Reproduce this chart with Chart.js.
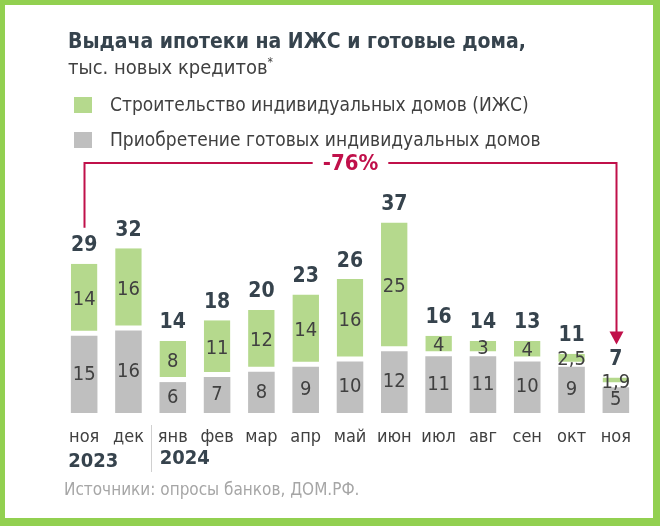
<!DOCTYPE html>
<html>
<head>
<meta charset="utf-8">
<script src="https://cdn.jsdelivr.net/npm/chart.js"></script>
<style>
  body { margin: 0; background: #92D050; width: 660px; height: 526px; overflow: hidden; font-family: "DejaVu Sans Condensed", "DejaVu Sans", sans-serif; }
  #card { position: absolute; left: 5px; top: 5px; width: 648px; height: 513px; background: #fff; }
  #chart { position: absolute; left: 0; top: 0; }
  .title { position: absolute; left: 68px; top: 29px; font-size: 21px; font-weight: bold; color: #36434D; white-space: nowrap; }
  .sub { position: absolute; left: 68px; top: 55px; font-size: 20px; color: #404040; white-space: nowrap; }
  .sub sup { font-size: 12px; }
  .leg { position: absolute; left: 74px; font-size: 19px; color: #404040; white-space: nowrap; }
  .leg span { display: inline-block; width: 18px; height: 16px; margin-right: 18px; vertical-align: -2px; }
  .src { position: absolute; left: 64px; top: 479px; font-size: 17px; color: #A6A6A6; white-space: nowrap; }
</style>
</head>
<body>
<div id="card"></div>
<canvas id="chart" width="660" height="526"></canvas>
<div class="title">Выдача ипотеки на ИЖС и готовые дома,</div>
<div class="sub">тыс. новых кредитов<sup>*</sup></div>
<div class="leg" style="top:93px"><span style="background:#B5D98D"></span>Строительство индивидуальных домов (ИЖС)</div>
<div class="leg" style="top:128px"><span style="background:#BFBFBF"></span>Приобретение готовых индивидуальных домов</div>
<div class="src">Источники: опросы банков, ДОМ.РФ.</div>
<script>
// данные
const months = ['ноя', 'дек', 'янв', 'фев', 'мар', 'апр', 'май', 'июн', 'июл', 'авг', 'сен', 'окт', 'ноя'];
const izhs = [14, 16, 8, 11, 12, 14, 16, 25, 4, 3, 4, 2.5, 1.9];
const ready = [15, 16, 6, 7, 8, 9, 10, 12, 11, 11, 10, 9, 5];
const totals = [29, 32, 14, 18, 20, 23, 26, 37, 16, 14, 13, 11, 7];
const years = ['2023', '2024'];
const changeLabel = '-76%';

const GREEN = '#B5D98D';
const GRAY = '#BFBFBF';
const RED = '#C0104A';
const FONT = '"DejaVu Sans Condensed", "DejaVu Sans", sans-serif';
const fmt = v => String(v).replace('.', ',');

const labelsPlugin = {
    id: 'labels',
    afterDatasetsDraw(chart) {
        const ctx = chart.ctx;
        const x = chart.scales.x;
        const y = chart.scales.y;
        ctx.save();
        ctx.textAlign = 'center';
        ctx.textBaseline = 'middle';

        // значения внутри сегментов
        ctx.font = '20px ' + FONT;
        ctx.fillStyle = '#404040';
        chart.data.datasets.forEach((ds, i) => {
            chart.getDatasetMeta(i).data.forEach((bar, j) => {
                const mid = (bar.y + bar.base) / 2;
                ctx.fillText(fmt(ds.data[j]), bar.x, mid);
            });
        });

        // итоги над столбцами
        ctx.font = 'bold 21px ' + FONT;
        ctx.fillStyle = '#36434D';
        totals.forEach((t, j) => {
            const top = y.getPixelForValue(izhs[j] + ready[j]);
            ctx.fillText(String(t), x.getPixelForValue(j), top - 18);
        });

        // подписи месяцев
        ctx.font = '18px ' + FONT;
        ctx.fillStyle = '#404040';
        months.forEach((m, j) => ctx.fillText(m, x.getPixelForValue(j), 437));

        // годы
        ctx.font = 'bold 20px ' + FONT;
        ctx.fillStyle = '#36434D';
        ctx.textAlign = 'left';
        ctx.fillText(years[0], x.getPixelForValue(0) - 16, 462);
        ctx.fillText(years[1], x.getPixelForValue(2) - 13, 459);

        // разделитель лет
        const sep = (x.getPixelForValue(1) + x.getPixelForValue(2)) / 2;
        ctx.strokeStyle = '#D0D0D0';
        ctx.lineWidth = 1;
        ctx.beginPath();
        ctx.moveTo(Math.round(sep) + 0.5, 425);
        ctx.lineTo(Math.round(sep) + 0.5, 472);
        ctx.stroke();

        // стрелка -76%
        const x0 = Math.round(x.getPixelForValue(0)) + 0.5;
        const x1 = Math.round(x.getPixelForValue(months.length - 1)) + 0.5;
        const lineY = 163;
        const leftEnd = y.getPixelForValue(totals[0]) - 36;
        const tip = y.getPixelForValue(izhs[12] + ready[12]) - 33;
        const midX = (x0 + x1) / 2;
        ctx.font = 'bold 22px ' + FONT;
        const tw = ctx.measureText(changeLabel).width;
        ctx.strokeStyle = RED;
        ctx.lineWidth = 2;
        ctx.beginPath();
        ctx.moveTo(x0, leftEnd);
        ctx.lineTo(x0, lineY);
        ctx.lineTo(midX - tw / 2 - 10, lineY);
        ctx.moveTo(midX + tw / 2 + 10, lineY);
        ctx.lineTo(x1, lineY);
        ctx.lineTo(x1, tip - 10);
        ctx.stroke();
        ctx.fillStyle = RED;
        ctx.beginPath();
        ctx.moveTo(x1 - 7, tip - 13);
        ctx.lineTo(x1 + 7, tip - 13);
        ctx.lineTo(x1, tip);
        ctx.closePath();
        ctx.fill();
        ctx.textAlign = 'center';
        ctx.fillText(changeLabel, midX, lineY + 1);
        ctx.restore();
    }
};

new Chart(document.getElementById('chart'), {
    type: 'bar',
    data: {
        labels: months,
        datasets: [
            { label: 'Приобретение готовых индивидуальных домов', data: ready, backgroundColor: GRAY, borderWidth: 0 },
            { label: 'Строительство индивидуальных домов (ИЖС)', data: izhs, backgroundColor: GREEN,
              borderColor: '#ffffff', borderWidth: { bottom: 5, top: 0, left: 0, right: 0 }, borderSkipped: false }
        ]
    },
    options: {
        responsive: false,
        animation: false,
        layout: { padding: { left: 62, right: 22, top: 207, bottom: 113 } },
        categoryPercentage: 1,
        barPercentage: 0.6,
        scales: {
            x: { stacked: true, display: false },
            y: { stacked: true, display: false, min: 0, max: 40 }
        },
        plugins: { legend: { display: false }, tooltip: { enabled: false } }
    },
    plugins: [labelsPlugin]
});
</script>
</body>
</html>
